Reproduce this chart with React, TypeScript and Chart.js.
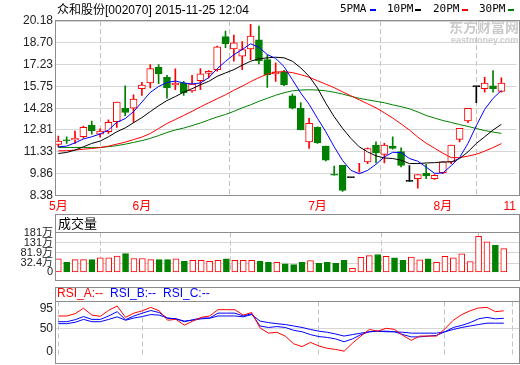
import React, { useEffect, useRef } from 'react';
import { Chart, registerables } from 'chart.js';

Chart.register(...registerables);

const FONT = "'Liberation Sans', Arial, 'Noto Sans CJK SC', sans-serif";
const MONO = "'DejaVu Sans Mono', 'Liberation Mono', monospace";
const RED = '#ff0000';
const GREEN = '#008000';
const BLACK = '#000000';
const BLUE = '#0000ff';
const GRID = '#d6d6d6';
const DASH = '#c2c2c2';
const FRAME = '#8c8c8c';

const X_MIN = -0.274;
const X_MAX = 54.81;

// axis ticks
const monthTicks = [0, 10, 31, 46, 54];
const monthLabels = ['5月', '6月', '7月', '8月', '11'];
const priceTicks = [8.38, 9.86, 11.33, 12.81, 14.28, 15.75, 17.23, 18.7, 20.18];
const volTicks = [-12.6, 32.4, 81.9, 131, 181];
const volTickLabels = ['0', '32.4万', '81.9万', '131万', '181万'];
const rsiTicks = [0, 50, 95];

// daily candles
const opens = [11.83, 12.12, 12.13, 12.35, 13.15, 12.52, 12.69, 13.37, 14.28, 14.28, 15.6, 15.99, 17.05, 16.37, 15.85, 15.99, 15.46, 16.15, 16.64, 16.89, 19.12, 18.3, 17.8, 18.3, 18.91, 17.57, 16.6, 16.74, 15.12, 14.28, 12.01, 12.99, 11.72, 9.79, 10.42, 9.59, 9.9, 10.65, 11.79, 11.15, 11.72, 11.35, 9.34, 9.52, 9.88, 9.52, 9.93, 10.65, 12.17, 13.42, 15.74, 15.6, 15.8, 15.42];
const highs = [12.4, 12.35, 12.74, 13.08, 13.42, 12.88, 13.49, 14.69, 15.8, 15.19, 16.03, 17.23, 17.23, 16.5, 16.94, 16.1, 16.5, 16.96, 16.82, 18.48, 19.5, 19.23, 18.78, 19.96, 19.84, 17.87, 17.35, 16.85, 15.24, 14.67, 13.6, 13.03, 11.72, 10.37, 10.42, 9.59, 10.55, 11.6, 12.01, 11.9, 12.35, 11.6, 10.4, 9.79, 10.49, 9.79, 10.65, 11.79, 12.92, 14.28, 15.74, 16.37, 16.82, 16.33];
const lows = [11.67, 11.9, 11.9, 12.26, 12.52, 12.33, 12.58, 12.99, 13.78, 13.33, 15.14, 15.65, 15.94, 14.97, 15.53, 15.14, 15.37, 15.53, 16.33, 16.78, 18.37, 17.46, 16.89, 17.57, 17.28, 15.69, 16.1, 15.8, 14.24, 12.81, 11.56, 11.9, 10.72, 9.76, 8.66, 9.59, 9.9, 10.54, 10.58, 10.58, 11.51, 10.31, 9.34, 8.88, 9.52, 9.47, 9.86, 10.54, 12.01, 13.3, 14.65, 15.37, 15.37, 15.37];
const closes = [12.06, 12.08, 12.26, 12.99, 12.76, 12.74, 13.33, 14.69, 13.99, 14.9, 15.85, 16.96, 16.6, 15.65, 15.99, 15.31, 15.92, 16.6, 16.78, 18.44, 18.64, 18.71, 18.25, 19.16, 17.5, 16.55, 16.74, 15.87, 14.28, 12.81, 13.26, 11.94, 10.77, 9.76, 8.72, 9.59, 9.92, 11.56, 11.26, 11.79, 11.56, 10.42, 9.34, 9.79, 9.7, 9.75, 10.65, 11.79, 12.92, 14.28, 15.74, 15.99, 15.6, 15.99];

// moving averages
const ma5 = [11.67, 11.72, 11.94, 12.2, 12.35, 12.54, 12.81, 13.33, 13.58, 14.05, 14.7, 15.35, 15.75, 16.02, 16.12, 15.99, 15.92, 15.99, 16.35, 16.95, 17.45, 17.9, 18.25, 18.64, 18.4, 17.91, 17.65, 17.1, 16.21, 15.31, 14.55, 13.6, 12.69, 11.67, 10.75, 10.08, 9.85, 10.08, 10.49, 10.99, 11.3, 11.28, 10.88, 10.7, 10.3, 9.88, 9.9, 10.4, 10.95, 11.9, 13.1, 14.2, 14.95, 15.48];
const ma10 = [11.22, 11.29, 11.45, 11.67, 11.9, 12.06, 12.35, 12.69, 12.95, 13.3, 13.65, 14.05, 14.45, 14.8, 15.07, 15.37, 15.6, 15.87, 16.1, 16.44, 16.67, 16.89, 17.19, 17.46, 17.62, 17.69, 17.73, 17.69, 17.46, 17.01, 16.44, 15.65, 14.62, 13.71, 12.92, 12.24, 11.67, 11.33, 11.06, 10.92, 10.88, 10.77, 10.54, 10.54, 10.58, 10.6, 10.65, 10.65, 10.88, 11.33, 11.9, 12.35, 12.81, 13.19];
const ma20 = [11.4, 11.41, 11.45, 11.51, 11.56, 11.62, 11.72, 11.85, 11.99, 12.16, 12.33, 12.57, 12.91, 13.25, 13.52, 13.79, 14.07, 14.37, 14.65, 14.92, 15.19, 15.5, 15.77, 16.08, 16.35, 16.59, 16.72, 16.76, 16.69, 16.55, 16.38, 16.14, 15.91, 15.67, 15.39, 15.12, 14.85, 14.58, 14.31, 13.97, 13.62, 13.22, 12.81, 12.33, 11.92, 11.58, 11.24, 10.94, 10.94, 11.04, 11.17, 11.38, 11.62, 11.89];
const ma30 = [11.63, 11.63, 11.63, 11.63, 11.63, 11.63, 11.68, 11.75, 11.85, 11.97, 12.09, 12.24, 12.43, 12.64, 12.81, 12.94, 13.11, 13.28, 13.49, 13.69, 13.86, 14.07, 14.31, 14.51, 14.75, 14.95, 15.16, 15.33, 15.46, 15.51, 15.53, 15.51, 15.46, 15.36, 15.24, 15.09, 14.95, 14.85, 14.75, 14.65, 14.51, 14.39, 14.24, 14.03, 13.79, 13.62, 13.45, 13.32, 13.18, 13.05, 12.91, 12.77, 12.67, 12.58];

// volume (万)
const volumes = [53.8, 36.2, 49.7, 49.7, 49.7, 57.9, 57.9, 66, 78.3, 55, 55, 49.7, 49.7, 49.7, 53.8, 41.5, 45.6, 45.6, 41.5, 45.6, 53.8, 45.6, 45.6, 45.6, 41.5, 36.2, 36.2, 29.3, 25.2, 36.2, 44.4, 32, 36.2, 32, 45.6, 7.6, 60.8, 69, 74.2, 64.8, 57.9, 45.6, 62, 48.5, 53.8, 36.2, 64.8, 57.9, 77.1, 40.3, 163, 135.6, 119.2, 102.9];

// RSI
const rsiA = [78.1, 78.1, 83, 95, 80, 77.4, 90.5, 99.9, 75, 84.3, 89.4, 96.9, 89.4, 68.8, 70.6, 58, 66.9, 75, 78.1, 91.8, 91.8, 91.8, 80, 85.6, 52, 40.6, 42.5, 34.2, 17.4, 11.2, 20.5, 12.5, 7.4, 5, 1.2, 18.7, 34.2, 48.7, 44.9, 51.2, 48.7, 35.6, 24.9, 34.2, 34.2, 34.2, 50, 68.8, 81.2, 89.4, 95.6, 96.9, 87.5, 89.4];
const rsiB = [65.6, 65.6, 69.9, 76.8, 70.6, 70.6, 78.1, 87.5, 69.9, 78.1, 84.3, 90, 85.6, 73.1, 71.8, 65.6, 69.9, 73.7, 73.7, 84.3, 84.3, 84.3, 78.1, 83, 56.2, 53, 54.9, 53, 46.8, 43.6, 37.4, 33.1, 31.2, 28, 21.8, 28, 37.4, 43.6, 44.9, 44.9, 43.6, 37.4, 32.4, 32.4, 34.2, 35.6, 43.6, 53, 57.5, 63.7, 71.8, 75, 71.8, 73.1];
const rsiC = [61.3, 61.3, 64.3, 70.6, 65.6, 65.6, 70.6, 76.2, 68.8, 73.7, 76.8, 81.2, 80, 73.7, 71.8, 66.9, 68.8, 71.8, 73.1, 78.1, 78.1, 78.1, 76.2, 81.2, 66.9, 63.7, 61.3, 59.4, 56.2, 53, 48.6, 44.9, 42.5, 38.7, 34.2, 37.4, 40.6, 43.6, 44.9, 43.6, 43.6, 42.5, 40.6, 40.6, 40.6, 40.6, 43.6, 48.6, 53, 56.2, 59.4, 62.4, 62.4, 62.4];

const candleColor = closes.map((c, i) => (c > opens[i] ? RED : c < opens[i] ? GREEN : BLACK));
const bodyFill = closes.map((c, i) => (c > opens[i] ? '#ffffff' : candleColor[i]));
const volColor = closes.map((c, i) => (c >= opens[i] ? RED : GREEN));
const volFill = closes.map((c, i) => (c >= opens[i] ? '#ffffff' : GREEN));

const pts = (arr: number[]) => arr.map((v, i) => ({ x: i, y: v }));

function xAxis(showLabels: boolean, height: number): any {
  return {
    type: 'linear',
    min: X_MIN,
    max: X_MAX,
    offset: false,
    afterBuildTicks: (s: any) => {
      s.ticks = monthTicks.map((v) => ({ value: v }));
    },
    afterFit: (s: any) => {
      s.height = height;
    },
    grid: { color: DASH, lineWidth: 1, drawTicks: false },
    border: { display: false, dash: [5, 3] },
    ticks: {
      display: showLabels,
      autoSkip: false,
      maxRotation: 0,
      minRotation: 0,
      padding: 4,
      color: RED,
      font: { family: FONT, size: 12 },
      callback: (_v: any, i: number) => monthLabels[i],
    },
  };
}

function yAxis(min: number, max: number, ticks: number[], fmt: (v: number, i: number) => string, gridColor: any, fontSize = 12): any {
  return {
    type: 'linear',
    position: 'left',
    min,
    max,
    afterBuildTicks: (s: any) => {
      s.ticks = ticks.map((v) => ({ value: v }));
    },
    afterFit: (s: any) => {
      s.width = 56;
    },
    grid: { color: gridColor, lineWidth: 1, drawTicks: false },
    border: { display: false },
    ticks: {
      autoSkip: false,
      padding: 3,
      color: '#222',
      font: { family: FONT, size: fontSize },
      callback: (v: any, i: number) => fmt(Number(v), i),
    },
  };
}

function baseOptions(padding: any): any {
  return {
    responsive: false,
    maintainAspectRatio: false,
    animation: false,
    events: [],
    layout: { padding, autoPadding: false },
    plugins: { legend: { display: false }, tooltip: { enabled: false }, title: { display: false } },
  };
}

const abs = (style: any): any => ({ position: 'absolute', whiteSpace: 'nowrap', ...style });

export default function App() {
  const priceRef = useRef<HTMLCanvasElement>(null);
  const volRef = useRef<HTMLCanvasElement>(null);
  const rsiRef = useRef<HTMLCanvasElement>(null);

  useEffect(() => {
    const charts: Chart[] = [];
    const line = (data: number[], color: string, order = 0) => ({
      type: 'line',
      data: pts(data),
      borderColor: color,
      borderWidth: 1,
      pointRadius: 0,
      tension: 0,
      fill: false,
      order,
    });

    if (priceRef.current) {
      charts.push(
        new Chart(priceRef.current, {
          type: 'line',
          data: {
            datasets: [
              line(ma5, BLUE, 0),
              line(ma10, BLACK, 0),
              line(ma20, RED, 0),
              line(ma30, GREEN, 0),
              {
                type: 'bar',
                data: opens.map((o, i) => ({ x: i, y: [o, closes[i]] })),
                backgroundColor: bodyFill,
                borderColor: candleColor,
                borderWidth: 1,
                borderSkipped: false,
                barThickness: 7,
                minBarLength: 1,
                grouped: false,
                order: 2,
              },
              {
                type: 'bar',
                data: lows.map((l, i) => ({ x: i, y: [l, highs[i]] })),
                backgroundColor: candleColor,
                borderWidth: 0,
                barThickness: 1,
                grouped: false,
                order: 3,
              },
            ] as any,
          },
          options: {
            ...baseOptions({ left: 0, right: 1, top: 21, bottom: 0 }),
            scales: {
              x: xAxis(true, 18.5),
              y: yAxis(8.38, 20.18, priceTicks, (v) => v.toFixed(2), GRID),
            },
          },
        } as any)
      );
    }

    if (volRef.current) {
      charts.push(
        new Chart(volRef.current, {
          type: 'line',
          data: {
            datasets: [
              {
                type: 'bar',
                data: pts(volumes),
                base: volTicks[0],
                backgroundColor: volFill,
                borderColor: volColor,
                borderWidth: 1,
                borderSkipped: false,
                barThickness: 6,
                grouped: false,
              },
            ] as any,
          },
          options: {
            ...baseOptions({ left: 0, right: 1, top: 18.5, bottom: 1.5 }),
            scales: {
              x: xAxis(false, 0),
              y: yAxis(
                volTicks[0],
                181,
                volTicks,
                (_v, i) => volTickLabels[i],
                (c: any) => (c.tick && c.tick.value > volTicks[0] && c.tick.value < 180 ? GRID : 'rgba(0,0,0,0)'),
                11
              ),
            },
          },
        } as any)
      );
    }

    if (rsiRef.current) {
      charts.push(
        new Chart(rsiRef.current, {
          type: 'line',
          data: {
            datasets: [line(rsiA, RED), line(rsiB, BLUE), line(rsiC, BLUE)] as any,
          },
          options: {
            ...baseOptions({ left: 0, right: 1, top: 14.5, bottom: 1.5 }),
            scales: {
              x: xAxis(false, 0),
              y: yAxis(-6.7, 109.7, rsiTicks, (v) => String(v), (c: any) =>
                c.tick && c.tick.value === 50 ? GRID : 'rgba(0,0,0,0)'
              ),
            },
          },
        } as any)
      );
    }

    return () => charts.forEach((c) => c.destroy());
  }, []);

  const frame = (top: number, height: number): any =>
    abs({ left: 55, top, width: 465, height, boxSizing: 'border-box', border: `1px solid ${FRAME}`, pointerEvents: 'none' });
  const sep = (top: number): any => abs({ left: 55, top, width: 465, height: 1, background: FRAME });

  return (
    <div style={{ position: 'fixed', left: 0, top: 0, width: 520, height: 365, background: '#fff', overflow: 'hidden', fontFamily: FONT }}>
      <canvas ref={priceRef} width={520} height={214} style={abs({ left: 0, top: 0, display: 'block' })} />
      <canvas ref={volRef} width={520} height={68} style={abs({ left: 0, top: 214, display: 'block' })} />
      <canvas ref={rsiRef} width={520} height={78} style={abs({ left: 0, top: 287, display: 'block' })} />

      {/* watermark */}
      <div style={abs({ left: 449, top: 19, fontSize: 14, fontWeight: 'bold', color: '#cbcbcb', lineHeight: '16px' })}>东方财富网</div>
      <div style={abs({ left: 451, top: 35, fontSize: 9, fontWeight: 'bold', color: '#cbcbcb', lineHeight: '10px' })}>eastmoney.com</div>

      <div style={frame(20, 176)} />
      <div style={frame(214, 67)} />
      <div style={sep(232)} />
      <div style={frame(287, 77)} />
      <div style={sep(301)} />

      {/* title */}
      <div style={abs({ left: 57, top: 3, fontSize: 12, lineHeight: '14px', color: '#000' })}>众和股份[002070] 2015-11-25 12:04</div>

      {/* legend */}
      <div style={abs({ left: 340, top: 2, fontFamily: MONO, fontSize: 11, lineHeight: '14px', color: '#000' })}>5PMA</div>
      <div style={abs({ left: 370, top: 9, width: 6, height: 2, background: BLUE })} />
      <div style={abs({ left: 387, top: 2, fontFamily: MONO, fontSize: 11, lineHeight: '14px', color: '#000' })}>10PM</div>
      <div style={abs({ left: 415, top: 9, width: 6, height: 2, background: BLACK })} />
      <div style={abs({ left: 433, top: 2, fontFamily: MONO, fontSize: 11, lineHeight: '14px', color: '#000' })}>20PM</div>
      <div style={abs({ left: 462, top: 9, width: 6, height: 2, background: RED })} />
      <div style={abs({ left: 479, top: 2, fontFamily: MONO, fontSize: 11, lineHeight: '14px', color: '#000' })}>30PM</div>
      <div style={abs({ left: 508, top: 9, width: 6, height: 2, background: GREEN })} />

      {/* panel headers */}
      <div style={abs({ left: 58, top: 216, fontSize: 13, lineHeight: '15px', color: '#000' })}>成交量</div>
      <div style={abs({ left: 57, top: 286, fontSize: 12, lineHeight: '14px', color: RED })}>RSI_A:--</div>
      <div style={abs({ left: 110, top: 286, fontSize: 12, lineHeight: '14px', color: BLUE })}>RSI_B:--</div>
      <div style={abs({ left: 163, top: 286, fontSize: 12, lineHeight: '14px', color: BLUE })}>RSI_C:--</div>
    </div>
  );
}
